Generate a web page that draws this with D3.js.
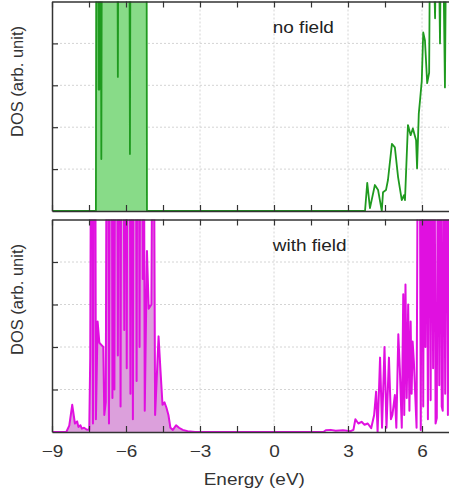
<!DOCTYPE html>
<html>
<head>
<meta charset="utf-8">
<script src="https://cdn.jsdelivr.net/npm/d3@7"></script>
<style>
  body { margin: 0; background: #fff; }
  svg { display: block; font-family: "Liberation Sans", Arial, sans-serif; }
</style>
</head>
<body>
<div id="chart"></div>
<script>
// energies (eV) and DOS (arb. unit); 9 = off the top
const noFieldEnergy = [-9, -7.22, -7.2, -7.14, -7.11, -7.08, -7.06, -7.03, -7.0, -6.97, -6.36, -6.33, -6.3,
  -5.87, -5.84, -5.81, -5.17, -5.15, 3.69, 3.78, 3.89, 4.09, 4.22, 4.37, 4.42, 4.54, 4.62,
  4.78, 4.9, 5.03, 5.18, 5.27, 5.31, 5.43, 5.54, 5.63, 5.76, 5.8, 5.87, 5.92, 5.99, 6.05,
  6.12, 6.21, 6.29, 6.35, 6.53, 6.62, 6.73, 6.8, 6.93, 7.01, 7.5];
const noFieldDos = [0, 0, 9, 9, 2.9, 2.9, 9, 9, 1.24, 9, 9, 3.2, 9,
  9, 1.36, 9, 9, 0, 0, 0.67, 0.07, 0.62, 0.5, 0, 0.45, 0.5, 0.74,
  1.6, 1.52, 0.81, 0.26, 0.38, 0.26, 2.05, 1.81, 1.97, 1.69, 1.02, 2.33, 2.64, 3.1, 4.26,
  4.07, 3.05, 3.3, 9, 4.6, 9, 4.0, 9, 2.95, 9, 9];

const withFieldEnergy = [-9, -8.42, -8.3, -8.18, -8.07, -7.98, -7.93, -7.85, -7.79, -7.7, -7.6, -7.49,
  -7.45, -7.41, -7.37, -7.34, -7.3, -7.25, -7.22, -7.15, -7.08, -7.0, -6.92, -6.88, -6.82,
  -6.78, -6.72, -6.69, -6.65, -6.58, -6.55, -6.5, -6.47, -6.44, -6.36, -6.33, -6.3, -6.25,
  -6.22, -6.19, -6.1, -6.07, -6.04, -6.0, -5.97, -5.94, -5.85, -5.82, -5.79, -5.75, -5.72,
  -5.69, -5.6, -5.57, -5.54, -5.48, -5.45, -5.42, -5.35, -5.32, -5.28, -5.24, -5.15, -5.08,
  -4.97, -4.92, -4.88, -4.82, -4.68, -4.6, -4.52, -4.44, -4.36, -4.28, -4.2, -4.1, -3.97,
  -3.85, -3.7, -3.5, -3.2,
  2.0, 2.1, 2.3, 2.5, 2.8, 3.1, 3.22, 3.3, 3.42, 3.55, 3.67, 3.8, 3.94, 4.06, 4.14, 4.2,
  4.3, 4.38, 4.48, 4.56, 4.66, 4.74, 4.8, 4.9, 4.96, 5.04, 5.1, 5.18, 5.24, 5.28, 5.33,
  5.38, 5.44, 5.49, 5.54, 5.58, 5.62, 5.67, 5.78, 5.84, 5.9, 5.95, 6.0, 6.05, 6.1, 6.14,
  6.18, 6.24, 6.3, 6.35, 6.4, 6.45, 6.5, 6.55, 6.6, 6.65, 6.7, 6.75, 6.8, 6.84, 6.88,
  6.94, 7.0, 7.05, 7.1, 7.5];
const withFieldDos = [0, 0, 0.15, 0.64, 0.2, 0.25, 0.12, 0.16, 0.08, 0.1, 0.06, 0.05,
  1.75, 9, 9, 0.2, 9, 9, 0.3, 2.6, 2.1, 2.05, 2.0, 0.4, 0.7,
  9, 9, 0.2, 9, 9, 0.8, 9, 1.0, 9, 9, 1.8, 9, 9,
  0.6, 9, 9, 2.4, 9, 9, 1.5, 9, 9, 0.9, 9, 9, 0.3,
  9, 9, 1.2, 9, 9, 2.0, 9, 9, 3.6, 9, 0.5, 4.26, 2.9,
  3.0, 9, 9, 0.4, 2.25, 1.43, 0.64, 0.7, 0.57, 0.4, 0.1, 0.05, 0.16,
  0.1, 0.05, 0.02, 0,
  0, 0.04, 0.05, 0.03, 0.04, 0.02, 0.05, 0.3, 0.2, 0.24, 0.17, 0.2, 0.09, 0.4, 0.95, 0,
  1.75, 0.1, 2.0, 0.1, 1.75, 0.3, 0.4, 0.87, 0.1, 2.3, 1.5, 0.1, 3.24, 0.4, 3.47,
  0.8, 3.0, 0.5, 2.6, 0.9, 2.13, 1.66, 0.1, 9, 9, 0.05, 9, 0.6, 9, 2.0,
  9, 0.3, 9, 0.75, 9, 1.5, 9, 0.2, 0.33, 9, 1.1, 9, 0.6, 0.5, 9,
  0.9, 9, 0.4, 9, 9];

const energyTicks = [-9, -6, -3, 0, 3, 6];
const minorTicks = [-7.5, -4.5, -1.5, 1.5, 4.5];
const dosTicks = [1, 2, 3, 4];
const fillBelow = 0; // occupied states are shaded

const panels = [
  { label: 'no field', energy: noFieldEnergy, dos: noFieldDos,
    line: '#1f9a1f', fill: '#88db88', width: 1.8, top: 1.5, bottom: 211 },
  { label: 'with field', energy: withFieldEnergy, dos: withFieldDos,
    line: '#e010e0', fill: '#dca0dc', width: 2, top: 219.5, bottom: 432 }
];

const width = 449, height = 495;
const sx = 1.15; // text in the picture is stretched sideways
const axisColor = '#333';

const svg = d3.select('#chart').append('svg')
  .attr('width', width)
  .attr('height', height);

const x = d3.scaleLinear().domain([-9, 7.5]).range([52, 459]);

panels.forEach((p, i) => {
  let y = d3.scaleLinear().domain([0, 5]).range([p.bottom, p.top]);
  let data = p.energy.map((e, k) => ({ e, v: p.dos[k] }));
  let g = svg.append('g');

  let clipId = 'clip' + i;
  svg.append('clipPath').attr('id', clipId)
    .append('rect')
    .attr('x', x(-9)).attr('y', p.top)
    .attr('width', x(7.5) - x(-9)).attr('height', p.bottom - p.top);

  // grid
  g.selectAll('.vgrid')
    .data(energyTicks.slice(1))
    .enter().append('line')
    .attr('x1', d => x(d)).attr('x2', d => x(d))
    .attr('y1', p.top).attr('y2', p.bottom)
    .attr('stroke', '#d4d4d4')
    .attr('stroke-dasharray', '2,2');
  g.selectAll('.hgrid')
    .data(dosTicks)
    .enter().append('line')
    .attr('x1', x(-9)).attr('x2', x(7.5))
    .attr('y1', d => y(d)).attr('y2', d => y(d))
    .attr('stroke', '#d4d4d4')
    .attr('stroke-dasharray', '2,2');

  let plot = g.append('g').attr('clip-path', `url(#${clipId})`);

  plot.append('path')
    .datum(data.filter(d => d.e <= fillBelow))
    .attr('fill', p.fill)
    .attr('d', d3.area().x(d => x(d.e)).y0(y(0)).y1(d => y(d.v)));

  plot.append('path')
    .datum(data)
    .attr('fill', 'none')
    .attr('stroke', p.line)
    .attr('stroke-width', p.width)
    .attr('stroke-linejoin', 'round')
    .attr('d', d3.line().x(d => x(d.e)).y(d => y(d.v)));

  // axes, ticks pointing inwards
  let bottomAxis = d3.axisBottom(x)
    .tickValues(energyTicks.concat(minorTicks))
    .tickSizeInner(-6).tickSizeOuter(0)
    .tickFormat(d => (i === 1 && energyTicks.includes(d)) ? d3.format('d')(d) : '');
  let ba = g.append('g')
    .attr('transform', `translate(0,${p.bottom})`)
    .call(bottomAxis);
  let topAxis = d3.axisTop(x)
    .tickValues(energyTicks.concat(minorTicks))
    .tickSizeInner(-6).tickSizeOuter(0)
    .tickFormat('');
  let ta = g.append('g')
    .attr('transform', `translate(0,${p.top})`)
    .call(topAxis);
  let leftAxis = d3.axisLeft(y)
    .tickValues(dosTicks)
    .tickSizeInner(-6).tickSizeOuter(0)
    .tickFormat('');
  let la = g.append('g')
    .attr('transform', `translate(${x(-9)},0)`)
    .call(leftAxis);

  [ba, ta, la].forEach(a => {
    a.select('.domain').attr('stroke', axisColor).attr('stroke-width', 1.5);
    a.selectAll('.tick line').attr('stroke', axisColor).attr('stroke-width', 1.2);
  });
  ba.selectAll('.tick text')
    .attr('y', 25).attr('dy', 0)
    .attr('fill', axisColor)
    .style('font-size', '16.5px')
    .attr('transform', `scale(${sx},1)`);

  // panel label
  g.append('text')
    .attr('transform', `translate(${x(-0.05)},${p.top + 31.5}) scale(${sx},1)`)
    .attr('fill', '#222')
    .style('font-size', '16.5px')
    .text(p.label);

  // y label
  g.append('text')
    .attr('transform', `translate(23,${p.top + 80}) rotate(-90)`)
    .attr('text-anchor', 'middle')
    .attr('fill', axisColor)
    .style('font-size', '16.5px')
    .text('DOS (arb. unit)');
});

svg.append('text')
  .attr('transform', `translate(${x(-0.8)},485) scale(${sx},1)`)
  .attr('text-anchor', 'middle')
  .attr('fill', axisColor)
  .style('font-size', '16.5px')
  .text('Energy (eV)');
</script>
</body>
</html>
